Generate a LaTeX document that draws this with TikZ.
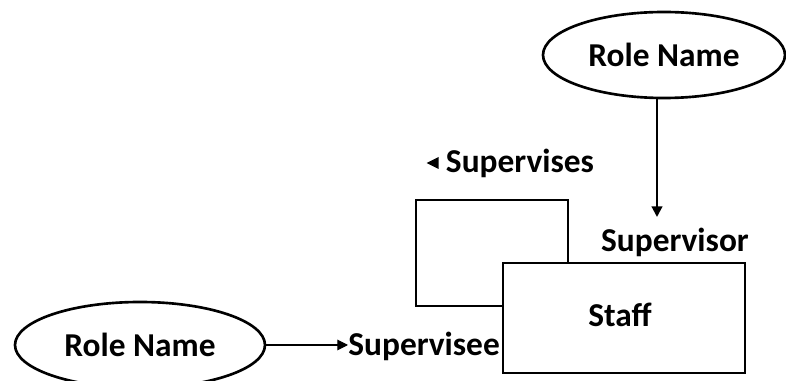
\documentclass[tikz,border=0pt]{standalone}
\usepackage{fontspec}
\setmainfont{Carlito}
\usetikzlibrary{positioning,shapes.geometric,arrows.meta}
\tikzset{
  role/.style={draw, ellipse, line width=1.5pt, fill=white,
    minimum width=#1 cm, minimum height=1.72cm, inner sep=0pt},
  entity/.style={draw, line width=1.7pt, fill=white, inner sep=0pt},
  label/.style={font=\bfseries\fontsize{19}{22}\selectfont, inner sep=0pt},
  link/.style={-{Triangle[length=6pt,width=6pt]}}
}

\begin{document}
\begin{tikzpicture}
            \useasboundingbox (0,0) rectangle (15.72,7.62);

            % the entity and its recursive box
            \draw node (loop) [entity, minimum width=3.04cm, minimum height=2.12cm] at (9.84,2.56) {};
            \draw node (staff) [entity, minimum width=4.84cm, minimum height=2.2cm] at (12.48,1.26) {};
            \draw node (S) [label] at (12.40,1.32) {Staff};

            % role names
            \draw node (A) [role=4.84] at (13.28,6.52) {};
            \draw node [label] at (A) {Role Name};
            \draw node (B) [role=5.0] at (2.80,0.72) {};
            \draw node [label] at (B) {Role Name};

            % role labels
            \draw node (C) [label] at (13.50,2.78) {Supervisor};
            \draw node (D) [label, anchor=west] at (6.96,0.70) {Supervisee};
            \draw node (E) [label] at (10.40,4.36) {Supervises};
            \fill (E.west) ++(-0.14,0.12) -- ++(0,-0.24) -- ++(-0.24,0.12) -- cycle;

            % connectors
            \coordinate (F) at (13.14,3.28);
            \draw[link, line width=1.2pt] (A.south -| F) -- (F);
            \draw[link, line width=0.6pt] (B) -- (B -| D.west);
        \end{tikzpicture}
\end{document}
